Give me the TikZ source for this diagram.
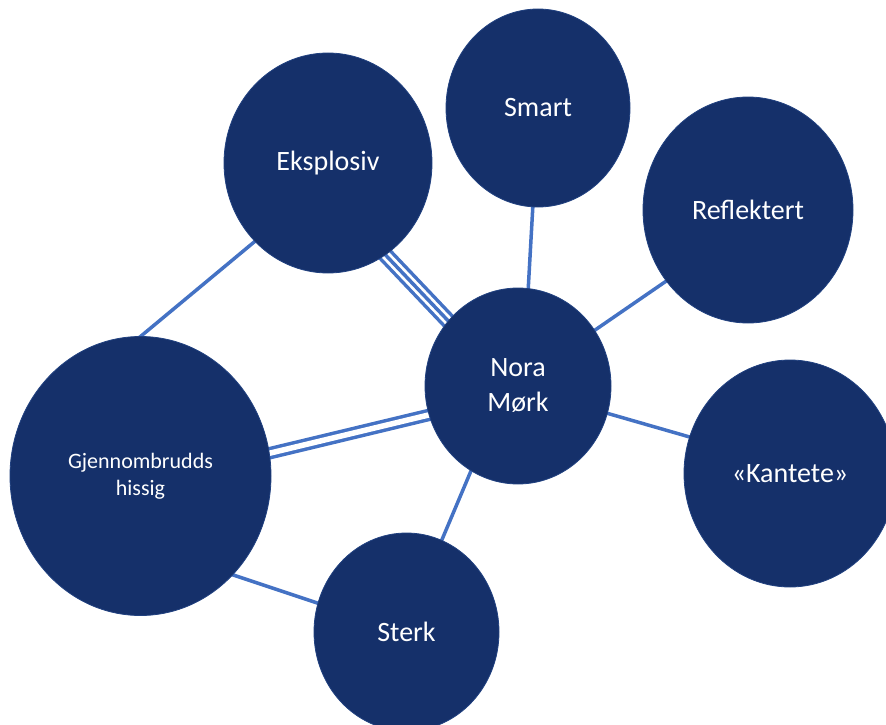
\documentclass[tikz,border=0pt]{standalone}
\usepackage{fontspec}
\setmainfont{Carlito}
\usetikzlibrary{shapes.geometric,backgrounds}
\definecolor{navy}{RGB}{21,48,106}
\definecolor{linkblue}{RGB}{68,114,196}

\begin{document}
\begin{tikzpicture}[
    x=1pt, y=-1pt,
    trait/.style={ellipse, fill=navy, draw=navy!75!linkblue, line width=0.8pt,
        inner sep=0pt, outer sep=0pt, text=white, align=center,
        font=\fontsize{28}{35}\selectfont},
    link/.style={draw=linkblue, line width=3.5pt, shorten <=-5pt, shorten >=-5pt},
    dbllink/.style={link, double=white, double distance=5.5pt},
    triplink/.style={link, double=white, double distance=9pt}
    ]

    \clip (0,0) rectangle (886,725);

    \node[trait, minimum width=208, minimum height=220] (Eks) at (328,163) {Eksplosiv};
    \node[trait, minimum width=184, minimum height=198] (Smart) at (538,108) {Smart};
    \node[trait, minimum width=210, minimum height=226] (Refl) at (748,210) {Reflektert};
    \node[trait, minimum width=186, minimum height=196] (Nora) at (518,386) {Nora\\Mørk};
    \node[trait, minimum width=212, minimum height=227] (Kant) at (790,473.5) {«Kantete»};
    \node[trait, minimum width=261, minimum height=279,
        font=\fontsize{22}{27}\selectfont] (Gjen) at (140.5,476) {Gjennombrudds\\hissig};
    \node[trait, minimum width=185, minimum height=198] (Sterk) at (406.5,632) {Sterk};

    \begin{scope}[on background layer]
    \draw[link] (Gjen.90) -- (Eks.227);
    \draw[triplink] (Eks.302) -- (Nora.137);  \draw[link] (Eks.302) -- (Nora.137);
    \draw[link] (Smart.267) -- (Nora.84);
    \draw[link] (Refl.221) -- (Nora.36);
    \draw[link] (Nora.343) -- (Kant.160);
    \draw[link] (Nora.241) -- (Sterk.69);
    \draw[link] (Gjen.313) -- (Sterk.162);
    \draw[dbllink] (Gjen.10) -- (Nora.198);
    \end{scope}

\end{tikzpicture}
\end{document}
